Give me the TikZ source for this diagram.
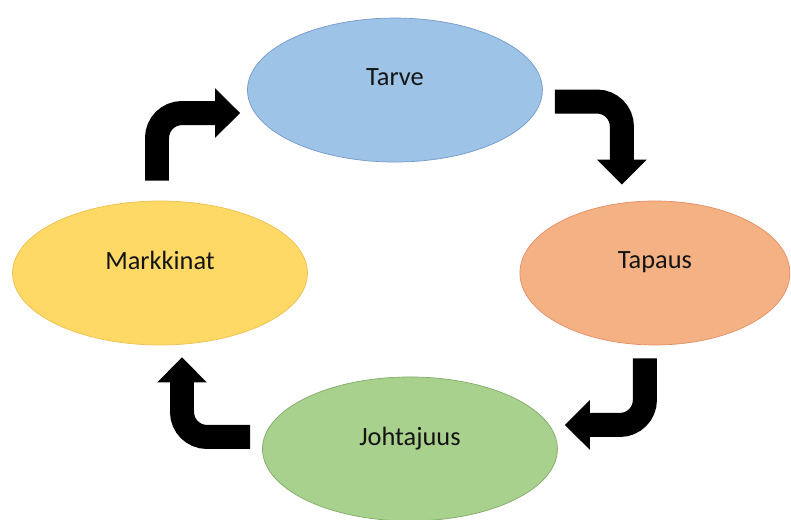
\documentclass[tikz,border=0pt]{standalone}
\usepackage{fontspec}
\setmainfont{Carlito}
\usepackage{tikz}
\usetikzlibrary{arrows.meta,shapes.geometric,calc}
\usetikzlibrary{positioning}
\definecolor{tarveFill}{RGB}{157,195,230}
\definecolor{tarveLine}{RGB}{118,152,204}
\definecolor{tapausFill}{RGB}{244,177,131}
\definecolor{tapausLine}{RGB}{228,142,102}
\definecolor{markkinatFill}{RGB}{255,217,102}
\definecolor{markkinatLine}{RGB}{240,190,80}
\definecolor{johtajuusFill}{RGB}{169,209,142}
\definecolor{johtajuusLine}{RGB}{128,170,104}
\tikzset{
    phase/.style={
           ellipse,
           thin,
           minimum width=5.9cm,
           minimum height=2.88cm,
           text depth=0.5cm,
           text=black!92,
           font=\fontsize{15}{18}\selectfont,
           },
    bent/.style={
           line width=0.48cm,
           line cap=butt,
           rounded corners=0.5cm,
           },
}

\begin{document}
\begin{tikzpicture}[x=0.02cm,y=0.02cm,->,>={Triangle[length=0.5cm,width=0.96cm]}]

 \useasboundingbox (0,0) rectangle (791,520);

 % Position of Markkinat, the others relative to it
 \node[phase, fill=markkinatFill, draw=markkinatLine] (Markkinat) at (160,247) {Markkinat};

 \node[phase,
  fill=tarveFill, draw=tarveLine,
  right of=Markkinat,
  node distance=4.7cm,
  yshift=3.66cm,
  anchor=center] (Tarve) {Tarve};

 \node[phase,
  fill=tapausFill, draw=tapausLine,
  minimum width=5.4cm,
  right of=Markkinat,
  node distance=9.9cm,
  anchor=center] (Tapaus) {Tapaus};

 \node[phase,
  fill=johtajuusFill, draw=johtajuusLine,
  right of=Markkinat,
  node distance=5cm,
  yshift=-3.52cm,
  anchor=center] (Johtajuus) {Johtajuus};

 % the bent arrows round the cycle
 \draw[bent] ($(Markkinat.north)+(-3,20)$) |- ($(Tarve.west)+(-7,-23)$);
 \draw[bent] ($(Tarve.east)+(12,-11.5)$) -| ($(Tapaus.north)+(-33,16)$);
 \draw[bent] ($(Tapaus.south)+(-10,-13)$) |- ($(Johtajuus.east)+(7,24)$);
 \draw[bent] ($(Johtajuus.west)+(-12,12)$) -| ($(Markkinat.south)+(22,-12)$);

\end{tikzpicture}
\end{document}
